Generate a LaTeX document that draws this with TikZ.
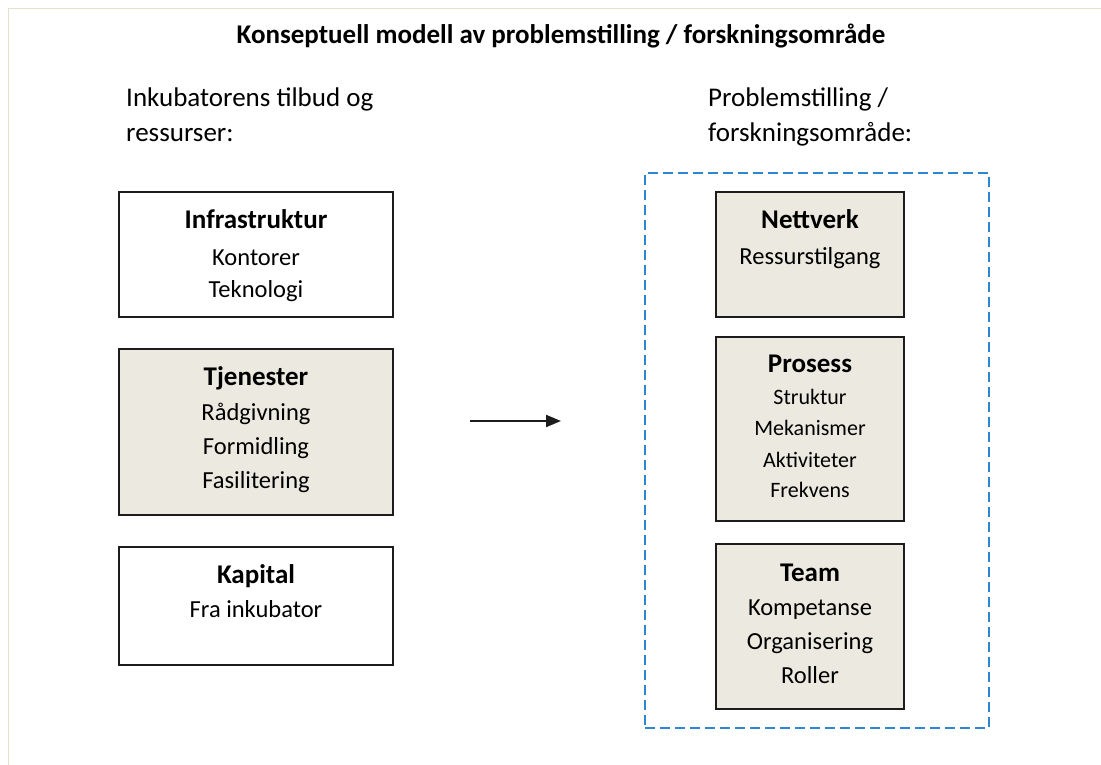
\documentclass[tikz,border=0pt]{standalone}
\usepackage{fontspec}
\setmainfont{Carlito}
\usetikzlibrary{arrows.meta}
\definecolor{boxfill}{RGB}{236,234,224}
\definecolor{frameline}{RGB}{230,224,204}
\definecolor{dashblue}{RGB}{46,134,208}
\definecolor{boxline}{RGB}{28,28,28}
\begin{document}
\begin{tikzpicture}[x=1pt,y=-1pt,
  plainbox/.style={draw=boxline, line width=2pt, fill=white, minimum width=#1, inner sep=0pt},
  shadedbox/.style={draw=boxline, line width=2pt, fill=boxfill, minimum width=#1, inner sep=0pt},
  heading/.style={anchor=base, inner sep=0pt, font=\fontsize{27}{32}\selectfont\bfseries},
  label/.style={anchor=base west, inner sep=0pt, font=\fontsize{27}{32}\selectfont},
  item/.style={anchor=base, inner sep=0pt, font=\fontsize{24.5}{29}\selectfont},
  smallitem/.style={anchor=base, inner sep=0pt, font=\fontsize{22}{26}\selectfont},
  groupframe/.style={draw=dashblue, line width=2.8pt, dash pattern=on 10pt off 5pt, inner sep=0pt}]
  % page area and its thin frame lines
  \useasboundingbox (0,0) rectangle (1101,765);
  \fill[white] (0,0) rectangle (1101,765);
  \draw[frameline, line width=1.5pt] (8.5,765) -- (8.5,8.5) -- (1101,8.5);

  % title and column labels
  \node[heading] (title) at (561,44) {Konseptuell modell av problemstilling / forskningsområde};
  \node[label] (lefta) at (126,107) {Inkubatorens tilbud og};
  \node[label] (leftb) at (126,142) {ressurser:};
  \node[label] (righta) at (708,107) {Problemstilling /};
  \node[label] (rightb) at (708,142) {forskningsområde:};

  % incubator offerings
  \node[plainbox=274pt, minimum height=125pt] (infra) at (256,254.5) {};
  \node[heading] (infrah) at (256,228) {Infrastruktur};
  \node[item] (infra1) at (256,265) {Kontorer};
  \node[item] (infra2) at (256,297) {Teknologi};

  \node[shadedbox=274pt, minimum height=166pt] (tjen) at (256,432) {};
  \node[heading] (tjenh) at (256,385) {Tjenester};
  \node[item] (tjen1) at (256,420) {Rådgivning};
  \node[item] (tjen2) at (256,454) {Formidling};
  \node[item] (tjen3) at (256,488) {Fasilitering};

  \node[plainbox=274pt, minimum height=118pt] (kap) at (256,606) {};
  \node[heading] (kaph) at (256,583) {Kapital};
  \node[item] (kap1) at (256,617) {Fra inkubator};

  % arrow between the two columns
  \coordinate (arrowstart) at (470,421);
  \coordinate (arrowend) at (561,421);
  \draw[line width=2pt, draw=boxline, -{Triangle[length=15pt,width=12pt]}] (arrowstart) -- (arrowend);

  % research area
  \node[groupframe, minimum width=344pt, minimum height=555pt] (area) at (817,450.5) {};

  \node[shadedbox=188pt, minimum height=125pt] (nett) at (810,254.5) {};
  \node[heading] (netth) at (810,228) {Nettverk};
  \node[item] (nett1) at (810,264) {Ressurstilgang};

  \node[shadedbox=188pt, minimum height=184pt] (pros) at (810,429) {};
  \node[heading] (prosh) at (810,372) {Prosess};
  \node[smallitem] (pros1) at (810,404) {Struktur};
  \node[smallitem] (pros2) at (810,435) {Mekanismer};
  \node[smallitem] (pros3) at (810,467) {Aktiviteter};
  \node[smallitem] (pros4) at (810,497) {Frekvens};

  \node[shadedbox=188pt, minimum height=165pt] (team) at (810,626.5) {};
  \node[heading] (teamh) at (810,581) {Team};
  \node[item] (team1) at (810,615) {Kompetanse};
  \node[item] (team2) at (810,649) {Organisering};
  \node[item] (team3) at (810,683) {Roller};
\end{tikzpicture}
\end{document}
